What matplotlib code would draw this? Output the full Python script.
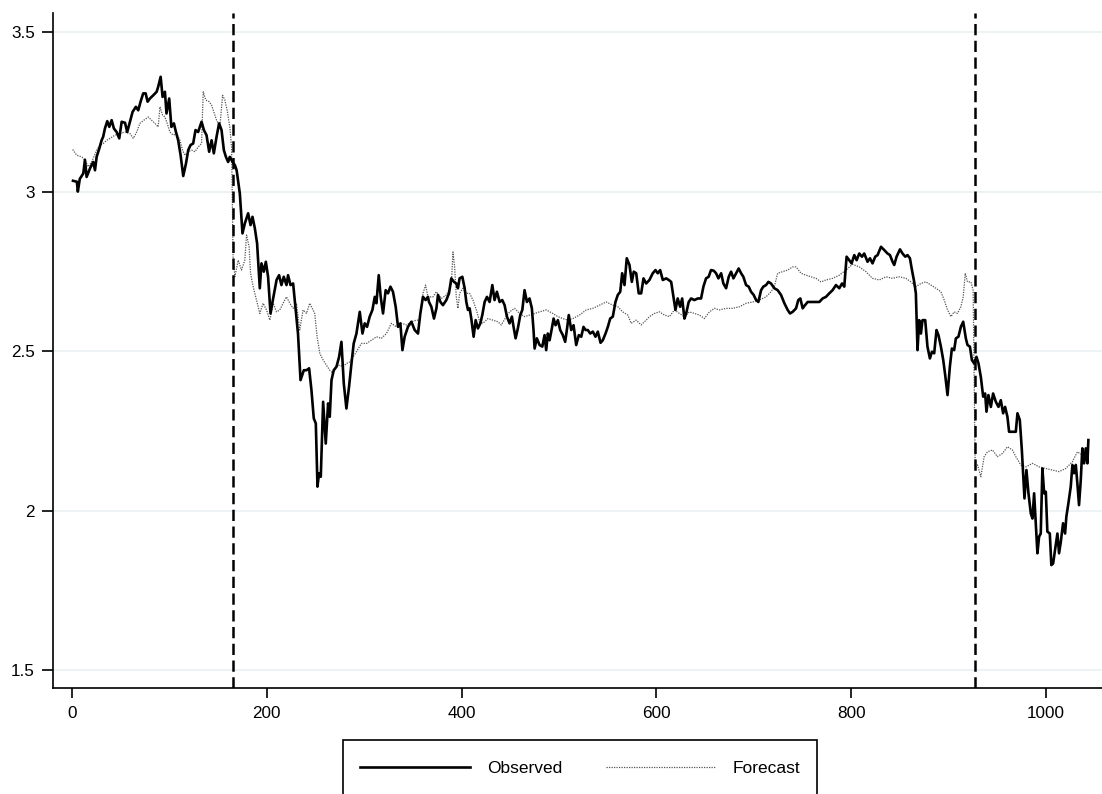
import matplotlib
matplotlib.use("Agg")
import matplotlib.pyplot as plt
from matplotlib.patches import Rectangle
from matplotlib.ticker import FormatStrFormatter

plt.rcParams['font.family'] = ['Liberation Sans', 'DejaVu Sans']

# observed series: (t, value)
obs_t = [1, 5, 6, 8, 11.6, 13.3, 15, 18.5, 21.8, 23.6, 25.3, 28, 30.4, 32, 33.8, 36.2, 38.3, 40.7, 43, 45.8,
         48.5, 51, 54.4, 56.7, 59.5, 62.2, 65.6, 68, 70.4, 73.1, 75.6, 77.6, 80, 83.4, 86.9, 88.5, 91, 93, 95.4, 97,
         99.8, 102, 104.6, 106.7, 109, 111.5, 114.2, 117, 119.3, 121.7, 124.4, 126.8, 129.5, 133, 135.4, 138.1, 140.8, 143.3, 145.6, 148.4,
         151, 153.5, 155.9, 158, 160.3, 162, 164.8, 167.2, 169, 172.3, 175, 177.4, 180.8, 183.3, 185.3, 187.7, 190, 192.8, 194.5, 196.9,
         199, 201.3, 203.8, 206.5, 210, 212.6, 215, 217.4, 220.2, 221.8, 224.3, 227, 229.7, 232, 234.6, 238, 240.7, 243.4, 245.8, 248.2,
         250.3, 252, 253.6, 255.4, 257.8, 260.5, 262.9, 264.6, 266.4, 268.7, 271.5, 274.2, 276.6, 279, 281.7, 284.4, 286.9, 289.2, 292, 295.4,
         298.2, 300.5, 302.9, 305.6, 308.4, 310.8, 312.5, 314.9, 316.9, 319.3, 322, 324.4, 326.9, 329.5, 332.3, 334.7, 337.1, 339.2, 341.5, 344.9,
         348.4, 351.8, 355.2, 357.6, 360.3, 363, 365.4, 366.5, 368.9, 371.6, 374.1, 375.7, 378.2, 380.8, 384.3, 387, 389.4, 392.1, 394.5, 396.2,
         397.9, 400.7, 403.1, 404.8, 406.5, 408.2, 409.9, 412.3, 414.4, 416.7, 419.2, 421.2, 423.6, 426, 428.7, 431.5, 433.8, 436.2, 439, 441.7,
         444.1, 446.5, 449.2, 451.6, 453.3, 455.4, 457.7, 460.2, 462.3, 464.6, 467, 469.7, 472.1, 473.8, 474.9, 477.2, 480, 482.8, 485.1, 486.8,
         488.5, 490.3, 492.6, 494.4, 496.4, 498.8, 501.2, 503.9, 506.3, 508, 510, 512.5, 514.9, 517.6, 520.3, 522.8, 525.1, 527.2, 529.5, 532,
         534.7, 537.4, 539.8, 542.6, 544.9, 547.7, 550.1, 552.5, 555.2, 557.9, 560.3, 562.8, 564.8, 567.2, 569.5, 572.3, 574.7, 576.7, 579.2, 581.8,
         584.3, 586.7, 589.4, 592.8, 596.2, 599, 601.3, 603.8, 606.5, 610, 612.6, 615.1, 617.4, 619.5, 621.8, 624.3, 626.4, 628.7, 630.5, 633.1,
         635.6, 639, 642.4, 645.8, 648.2, 650.9, 653.6, 656, 658.8, 661.2, 663.6, 666.4, 668.7, 671.5, 674.2, 676.6, 679, 681.8, 684.4, 686.9,
         689.2, 692, 694.7, 697.1, 699.8, 702.3, 704.6, 707.4, 709.7, 712.5, 714.9, 717.6, 721, 724.4, 727.9, 731.3, 734.7, 737.1, 739.8, 743.3,
         745.6, 747.7, 750.1, 752.5, 755.2, 758.7, 763.8, 767.2, 770.6, 774, 777.4, 780.8, 784.3, 787.7, 790.5, 792.8, 795.2, 797.9, 800.3, 803.1,
         805.5, 808.2, 811, 813.3, 816.7, 819.2, 821.8, 824.6, 827, 830.5, 833.8, 837.2, 839.7, 842.4, 844.1, 846.5, 850, 852.6, 855.4, 857.7,
         860.2, 862.3, 864.6, 866.3, 868, 869.7, 871.5, 873.1, 875.9, 878.2, 880.7, 882.8, 885.1, 887.5, 889.5, 892, 894.4, 896.4, 898.8, 901.2,
         903.3, 905.6, 907.4, 910, 912.5, 914.9, 917.6, 919.3, 921.8, 923.8, 926.2, 928.5, 930.6, 933, 935.4, 937.4, 938.8, 940.8, 943.3, 945.6,
         948.4, 951.1, 953.5, 955.9, 957.9, 960.3, 962, 965.4, 968.9, 970.6, 973, 975.1, 976.4, 977.8, 979.8, 981.9, 984.3, 986, 987.7, 989.4,
         991.1, 992.8, 994.5, 996.2, 998, 999.7, 1001.3, 1003.8, 1005.4, 1007.2, 1009.2, 1011.6, 1013.3, 1015.1, 1017.4, 1019.5, 1020.8, 1022.9, 1025.3, 1027,
         1028.7, 1030.5, 1032.1, 1033.8, 1035.6, 1037.2, 1039, 1040.7, 1042.4, 1043.4]
obs_y = [3.034, 3.031, 3.0, 3.04, 3.057, 3.10, 3.046, 3.073, 3.093, 3.067, 3.109, 3.135, 3.161, 3.172, 3.198, 3.221, 3.203, 3.224, 3.198, 3.187,
         3.167, 3.219, 3.216, 3.187, 3.219, 3.25, 3.266, 3.255, 3.282, 3.308, 3.308, 3.282, 3.292, 3.302, 3.313, 3.329, 3.36, 3.297, 3.313, 3.245,
         3.292, 3.203, 3.214, 3.187, 3.161, 3.114, 3.049, 3.088, 3.13, 3.146, 3.151, 3.193, 3.187, 3.219, 3.193, 3.177, 3.125, 3.161, 3.12, 3.172,
         3.214, 3.193, 3.13, 3.109, 3.093, 3.109, 3.093, 3.083, 3.067, 2.994, 2.869, 2.90, 2.932, 2.895, 2.921, 2.885, 2.838, 2.697, 2.775, 2.749,
         2.78, 2.733, 2.618, 2.665, 2.723, 2.738, 2.707, 2.733, 2.707, 2.738, 2.707, 2.712, 2.629, 2.555, 2.409, 2.44, 2.44, 2.446, 2.378, 2.289,
         2.273, 2.075, 2.117, 2.106, 2.341, 2.21, 2.336, 2.294, 2.409, 2.44, 2.451, 2.482, 2.529, 2.399, 2.32, 2.388, 2.461, 2.524, 2.555, 2.623,
         2.555, 2.587, 2.576, 2.608, 2.629, 2.67, 2.65, 2.738, 2.67, 2.618, 2.691, 2.681, 2.702, 2.686, 2.639, 2.576, 2.587, 2.503, 2.545, 2.576,
         2.592, 2.566, 2.555, 2.618, 2.67, 2.66, 2.67, 2.654, 2.639, 2.602, 2.634, 2.676, 2.654, 2.644, 2.66, 2.681, 2.728, 2.717, 2.712, 2.697,
         2.728, 2.733, 2.697, 2.654, 2.629, 2.634, 2.602, 2.545, 2.597, 2.571, 2.587, 2.613, 2.654, 2.67, 2.654, 2.707, 2.66, 2.686, 2.654, 2.66,
         2.644, 2.608, 2.587, 2.608, 2.576, 2.54, 2.571, 2.613, 2.629, 2.691, 2.654, 2.665, 2.634, 2.566, 2.508, 2.54, 2.519, 2.514, 2.55, 2.503,
         2.555, 2.534, 2.571, 2.602, 2.581, 2.597, 2.566, 2.55, 2.529, 2.566, 2.613, 2.566, 2.581, 2.519, 2.55, 2.545, 2.576, 2.566, 2.566, 2.555,
         2.561, 2.545, 2.561, 2.526, 2.534, 2.555, 2.576, 2.602, 2.608, 2.654, 2.676, 2.686, 2.744, 2.707, 2.791, 2.77, 2.717, 2.749, 2.744, 2.681,
         2.681, 2.728, 2.712, 2.723, 2.744, 2.754, 2.744, 2.754, 2.723, 2.728, 2.723, 2.717, 2.67, 2.629, 2.665, 2.639, 2.665, 2.602, 2.618, 2.654,
         2.665, 2.66, 2.665, 2.665, 2.702, 2.728, 2.733, 2.754, 2.752, 2.744, 2.728, 2.744, 2.712, 2.697, 2.733, 2.749, 2.728, 2.744, 2.759, 2.744,
         2.733, 2.707, 2.702, 2.686, 2.676, 2.66, 2.654, 2.691, 2.702, 2.707, 2.717, 2.712, 2.697, 2.691, 2.676, 2.65, 2.629, 2.618, 2.623, 2.634,
         2.66, 2.665, 2.634, 2.644, 2.654, 2.654, 2.654, 2.654, 2.665, 2.67, 2.681, 2.691, 2.707, 2.697, 2.712, 2.702, 2.796, 2.785, 2.775, 2.801,
         2.785, 2.806, 2.796, 2.806, 2.78, 2.791, 2.775, 2.796, 2.801, 2.827, 2.817, 2.806, 2.801, 2.78, 2.77, 2.796, 2.819, 2.806, 2.796, 2.801,
         2.791, 2.754, 2.717, 2.681, 2.503, 2.597, 2.555, 2.597, 2.597, 2.514, 2.477, 2.498, 2.493, 2.566, 2.55, 2.514, 2.472, 2.425, 2.362, 2.451,
         2.508, 2.503, 2.54, 2.545, 2.576, 2.592, 2.54, 2.519, 2.514, 2.472, 2.461, 2.482, 2.461, 2.419, 2.357, 2.367, 2.31, 2.362, 2.325, 2.367,
         2.341, 2.325, 2.346, 2.305, 2.325, 2.294, 2.247, 2.247, 2.247, 2.305, 2.284, 2.19, 2.117, 2.038, 2.127, 2.054, 1.991, 1.975, 2.054, 1.96,
         1.866, 1.918, 1.928, 2.132, 2.054, 2.059, 1.934, 1.928, 1.829, 1.834, 1.876, 1.928, 1.866, 1.902, 1.96, 1.928, 1.981, 2.023, 2.075, 2.143,
         2.117, 2.143, 2.085, 2.017, 2.096, 2.195, 2.148, 2.195, 2.148, 2.221]

# forecast series: (t, value)
fc_t = [0.7, 4.8, 10, 13.3, 16.7, 20.2, 25.3, 28.7, 32.1, 35.6, 39, 44.1, 49.2, 54.4, 59.5, 62.9, 66.4, 69.7, 73.8, 78.3,
        81.7, 85.1, 88.5, 90.3, 93, 95.4, 97.7, 100.5, 103.9, 107.4, 110.8, 113.5, 115.9, 119.3, 122.8, 126.2, 129.5, 133, 134.7, 137.4,
        140.8, 143.3, 145.6, 148.4, 151.8, 154.6, 156.9, 159.3, 162, 163.8, 165.4, 167.2, 170.6, 174, 177.4, 179.2, 181.8, 183.3, 186, 189.4,
        192.8, 196.2, 199.7, 203.1, 206.5, 210, 213.3, 216.7, 220.2, 223.6, 227, 230.4, 233.8, 237.2, 240.7, 244.1, 247.5, 249.2, 251.6, 254.4,
        257.8, 261.2, 264.6, 268, 271.5, 274.9, 278.3, 281.7, 285.1, 288.5, 292, 297.1, 302.3, 307.4, 312.5, 317.6, 322.8, 327.9, 333, 338.2,
        343.3, 348.4, 353.5, 356.9, 360.3, 363, 365.4, 370.6, 374, 379.2, 384.3, 389.4, 391.1, 392.8, 394.5, 396.2, 397.9, 401.3, 404.8, 408.2,
        411.6, 415.1, 418.5, 421.8, 427, 432.1, 437.2, 440.7, 445.8, 449.2, 454.4, 459.5, 464.6, 469.7, 474.9, 480, 486.9, 493.6, 498.8, 503.9,
        509, 514.1, 521, 527.9, 534.7, 541.5, 548.4, 555.2, 560.3, 565.4, 570.6, 574, 579.2, 584.3, 589.4, 592.8, 597.9, 603.1, 608.2, 613.3,
        618.5, 623.6, 628.7, 633.8, 639, 644.1, 649.2, 654.4, 659.5, 664.6, 671.5, 678.3, 685.1, 692, 698.8, 705.6, 712.5, 717.6, 721, 724.4,
        729.5, 734.7, 739.8, 743.3, 748.4, 753.5, 758.7, 763.8, 768.9, 774, 780.8, 787.7, 794.5, 801.3, 808.2, 815, 821.8, 828.7, 835.6, 842.4,
        849.2, 856.1, 861.2, 866.3, 871.5, 876.6, 881.7, 886.9, 892, 895.4, 898.8, 902.3, 905.6, 909, 912.5, 914.9, 917, 919.3, 922.8, 925.1,
        927.2, 929.6, 933, 936.4, 939.8, 944.9, 950, 955.2, 960.3, 965.4, 968.9, 974, 979.2, 986, 992.8, 999.7, 1006.5, 1013.3, 1020.2, 1027,
        1032.1, 1037.2, 1042.4]
fc_y = [3.132, 3.114, 3.109, 3.099, 3.078, 3.093, 3.13, 3.146, 3.151, 3.161, 3.167, 3.177, 3.182, 3.187, 3.182, 3.167, 3.187, 3.214, 3.224, 3.234,
        3.224, 3.214, 3.203, 3.266, 3.24, 3.234, 3.214, 3.187, 3.177, 3.182, 3.161, 3.13, 3.114, 3.125, 3.13, 3.125, 3.14, 3.151, 3.313, 3.287,
        3.282, 3.271, 3.25, 3.224, 3.203, 3.302, 3.287, 3.255, 3.203, 3.14, 2.796, 2.733, 2.785, 2.754, 2.785, 2.864, 2.827, 2.744, 2.702, 2.66,
        2.618, 2.65, 2.629, 2.597, 2.65, 2.623, 2.629, 2.65, 2.67, 2.65, 2.634, 2.65, 2.566, 2.629, 2.618, 2.65, 2.629, 2.618, 2.545, 2.493,
        2.472, 2.456, 2.44, 2.43, 2.451, 2.456, 2.451, 2.461, 2.466, 2.482, 2.498, 2.524, 2.524, 2.534, 2.545, 2.54, 2.555, 2.587, 2.576, 2.587,
        2.582, 2.592, 2.597, 2.597, 2.681, 2.707, 2.67, 2.67, 2.686, 2.665, 2.676, 2.707, 2.811, 2.764, 2.67, 2.634, 2.681, 2.697, 2.681, 2.681,
        2.66, 2.629, 2.592, 2.587, 2.602, 2.597, 2.592, 2.582, 2.608, 2.623, 2.634, 2.618, 2.608, 2.613, 2.618, 2.623, 2.629, 2.618, 2.608, 2.602,
        2.597, 2.602, 2.613, 2.629, 2.634, 2.644, 2.654, 2.644, 2.639, 2.623, 2.613, 2.587, 2.597, 2.582, 2.597, 2.608, 2.618, 2.623, 2.613, 2.608,
        2.629, 2.618, 2.608, 2.623, 2.618, 2.613, 2.602, 2.623, 2.634, 2.629, 2.634, 2.634, 2.639, 2.65, 2.654, 2.66, 2.67, 2.686, 2.702, 2.744,
        2.749, 2.754, 2.764, 2.764, 2.744, 2.738, 2.733, 2.728, 2.717, 2.723, 2.728, 2.738, 2.754, 2.772, 2.764, 2.749, 2.728, 2.723, 2.733, 2.728,
        2.733, 2.728, 2.717, 2.702, 2.712, 2.717, 2.707, 2.697, 2.686, 2.66, 2.629, 2.608, 2.623, 2.618, 2.639, 2.67, 2.744, 2.717, 2.717, 2.691,
        2.137, 2.143, 2.106, 2.169, 2.184, 2.19, 2.169, 2.179, 2.2, 2.19, 2.169, 2.143, 2.137, 2.148, 2.137, 2.132, 2.127, 2.122, 2.132, 2.153,
        2.184, 2.174, 2.184]

# sample break points
breaks = [165, 927]

W, H = 1102, 794
fig = plt.figure(figsize=(W / 100, H / 100), dpi=100)
ax = fig.add_axes([0.0481, 0.1335, 0.952, 0.8501])

ax.plot(obs_t, obs_y, color="black", lw=1.9, label="Observed", zorder=3)
ax.plot(fc_t, fc_y, color="#555555", lw=0.9, linestyle=(0, (1, 1)), label="Forecast", zorder=2)
for b in breaks:
    ax.axvline(b, color="black", lw=1.8, linestyle=(0, (4.5, 2.2)), zorder=4)

ax.set_xlim(-19.5, 1057.5)
ax.set_ylim(1.4436, 3.56)
ax.set_xticks([0, 200, 400, 600, 800, 1000])
ax.set_yticks([1.5, 2, 2.5, 3, 3.5])
ax.yaxis.set_major_formatter(FormatStrFormatter('%g'))
ax.grid(axis="y", color="#eaf1f2", lw=1.2)
ax.set_axisbelow(True)
for s in ["top", "right"]:
    ax.spines[s].set_visible(False)
for s in ["left", "bottom"]:
    ax.spines[s].set_linewidth(1.2)
ax.tick_params(axis="both", labelsize=12.3, width=1.2, color="black")
ax.tick_params(axis="y", length=8.2, pad=5)
ax.tick_params(axis="x", length=7.3, pad=6)

# legend entries without their own frame; the box is drawn separately and runs off the bottom edge
leg = fig.legend(loc="center", bbox_to_anchor=(580 / W, 1 - 768 / H), ncol=2,
                 fontsize=12.5, handlelength=6.3, handletextpad=1.0,
                 columnspacing=2.5, borderpad=0, borderaxespad=0, frameon=False)
fig.patches.append(Rectangle((343 / W, -0.02), 474 / W, 0.02 + 1 - 740 / H,
                             transform=fig.transFigure, fill=False,
                             edgecolor="black", lw=1.2))

fig.savefig("out.png", dpi=100)
